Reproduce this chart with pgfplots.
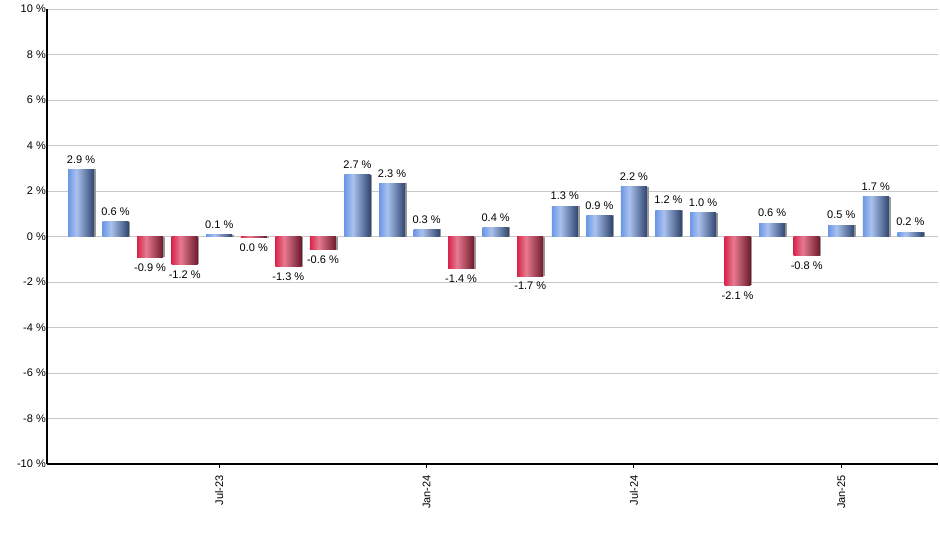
\documentclass[border=0pt]{standalone}
\usepackage{fontspec}
\setmainfont{Liberation Sans}
\usepackage{pgfplots}
\pgfplotsset{compat=1.18}
\definecolor{gridc}{HTML}{C8C8C8}
\definecolor{bA}{HTML}{6C97E6}
\definecolor{bB}{HTML}{AAC2EE}
\definecolor{bC}{HTML}{30466F}
\definecolor{rA}{HTML}{D8264C}
\definecolor{rB}{HTML}{E67A90}
\definecolor{rC}{HTML}{6E1A2C}
\definecolor{shadowc}{HTML}{9A9A9A}
\pgfdeclarehorizontalshading{bluebar}{100bp}{color(0bp)=(bA); color(25bp)=(bA); color(41bp)=(bB); color(75bp)=(bC); color(100bp)=(bC)}
\pgfdeclarehorizontalshading{redbar}{100bp}{color(0bp)=(rA); color(25bp)=(rA); color(42bp)=(rB); color(75bp)=(rC); color(100bp)=(rC)}

% #1 = month index, #2 = value, #3 = label
\newcommand{\posbar}[3]{%
  \addplot[ybar, bar shift=1.8pt, fill=shadowc, draw=none, forget plot] coordinates {(#1,#2)};
  \addplot[ybar, bar shift=0pt, draw=none, shading=bluebar,
    nodes near coords={#3\ \%},
    every node near coord/.append style={anchor=south, inner sep=0pt, yshift=6pt}] coordinates {(#1,#2)};}
\newcommand{\negbar}[3]{%
  \addplot[ybar, bar shift=1.8pt, fill=shadowc, draw=none, forget plot] coordinates {(#1,#2)};
  \addplot[ybar, bar shift=0pt, draw=none, shading=redbar,
    nodes near coords={#3\ \%},
    every node near coord/.append style={anchor=north, inner sep=0pt, yshift=-6pt}] coordinates {(#1,#2)};}

\begin{document}
\begin{tikzpicture}
\begin{axis}[
  at={(0pt,0pt)}, anchor=south west,
  scale only axis,
  width=891pt, height=455pt,
  xmin=-0.984, xmax=24.80,
  ymin=-10, ymax=10,
  ytick={-10,-8,...,10},
  yticklabel={\pgfmathprintnumber{\tick} \%},
  /pgf/number format/assume math mode=true,
  xtick={4,10,16,22},
  xticklabels={Jul-23,Jan-24,Jul-24,Jan-25},
  axis x line=bottom, axis y line=left,
  axis line style={-, black, line width=1.2pt},
  ymajorgrids, grid style={gridc, line width=0.9pt},
  tick align=outside,
  major tick length=4pt,
  ytick style={draw=none},
  xtick style={black, line width=1pt},
  tick label style={font=\fontsize{11}{13}\selectfont},
  yticklabel style={inner sep=0pt, xshift=3pt},
  xticklabel style={rotate=90, anchor=east, inner sep=1pt},
  xticklabel shift=6pt,
  ybar, bar width=26pt,
  clip=false,
  nodes near coords style={font=\fontsize{11}{13}\selectfont, text=black},
]
\posbar{0}{2.95}{2.9}
\posbar{1}{0.65}{0.6}
\negbar{2}{-0.92}{-0.9}
\negbar{3}{-1.23}{-1.2}
\posbar{4}{0.08}{0.1}
\negbar{5}{-0.04}{0.0}
\negbar{6}{-1.33}{-1.3}
\negbar{7}{-0.58}{-0.6}
\posbar{8}{2.72}{2.7}
\posbar{9}{2.33}{2.3}
\posbar{10}{0.31}{0.3}
\negbar{11}{-1.41}{-1.4}
\posbar{12}{0.40}{0.4}
\negbar{13}{-1.74}{-1.7}
\posbar{14}{1.34}{1.3}
\posbar{15}{0.93}{0.9}
\posbar{16}{2.19}{2.2}
\posbar{17}{1.16}{1.2}
\posbar{18}{1.04}{1.0}
\negbar{19}{-2.14}{-2.1}
\posbar{20}{0.59}{0.6}
\negbar{21}{-0.84}{-0.8}
\posbar{22}{0.50}{0.5}
\posbar{23}{1.75}{1.7}
\posbar{24}{0.19}{0.2}
\end{axis}
\pgfresetboundingbox
\path (-47pt,-86pt) rectangle (893pt,464pt);
\end{tikzpicture}
\end{document}
